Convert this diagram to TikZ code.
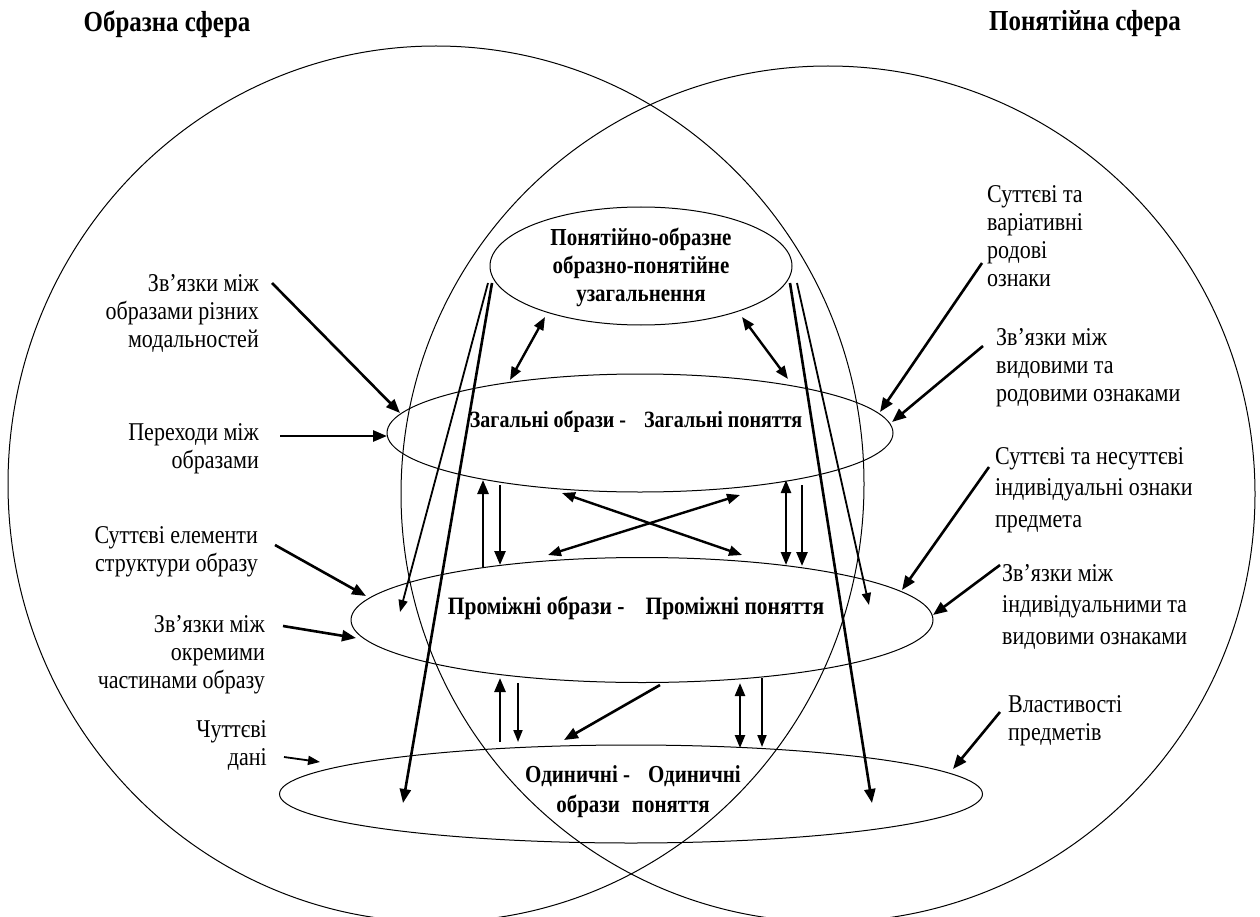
\documentclass[tikz,border=0pt]{standalone}
\usepackage{fontspec}
\setmainfont{Liberation Serif}[FakeStretch=0.86]
\usetikzlibrary{arrows.meta}
\usetikzlibrary{shapes.geometric}
\tikzset{
  sphere/.style={line width=1pt},
  slice/.style={draw, ellipse, line width=1pt, inner sep=0pt},
  sphtitle/.style={font=\bfseries\fontsize{29}{30}\selectfont, inner sep=0pt},
  slicetext/.style={font=\bfseries\fontsize{24.4}{28}\selectfont, align=center, inner sep=0pt},
  lbl/.style={font=\fontsize{25.6}{28}\selectfont, inner sep=0pt},
  arr/.style={-{Triangle[length=14pt,width=11pt]}, line width=2.6pt},
  arrthin/.style={-{Triangle[length=12pt,width=9pt]}, line width=1.8pt},
  dbl/.style={{Triangle[length=13pt,width=10pt]}-{Triangle[length=13pt,width=10pt]}, line width=2.4pt}
}

\begin{document}
\begin{tikzpicture}[x=1pt, y=-1pt]
\useasboundingbox (0,0) rectangle (1260,917);
% the two spheres
\draw[sphere] (436,484) ellipse [x radius=428, y radius=438];
\draw[sphere] (828,494) ellipse [x radius=427, y radius=428];
\node[sphtitle] (imgtitle) at (167,24) {Образна сфера};
\node[sphtitle] (contitle) at (1085,24) {Понятійна сфера};
% levels
\node[slice, minimum width=302pt, minimum height=118pt] (top) at (641,266) {};
\node[slice, minimum width=506pt, minimum height=118pt] (gen) at (640,433) {};
\node[slice, minimum width=582pt, minimum height=125pt] (mid) at (642,620) {};
\node[slice, minimum width=703pt, minimum height=98pt] (sing) at (631,794) {};
\node[slicetext] (toptext) at (641,267) {Понятійно-образне\\образно-понятійне\\узагальнення};
\node[slicetext, font=\bfseries\fontsize{23.3}{28}\selectfont] (gentext) at (636,422)
  {Загальні образи -\hspace{18pt}Загальні поняття};
\node[slicetext, font=\bfseries\fontsize{25}{28}\selectfont] (midtext) at (636,608)
  {Проміжні образи -\hspace{21pt}Проміжні поняття};
\node[slicetext, font=\bfseries\fontsize{24.4}{30}\selectfont] (singtext) at (633,792)
  {Одиничні -\hspace{18pt}Одиничні\\образи\hspace{12pt}поняття};
% annotations
\node[lbl, anchor=east, align=right] (modal) at (259,313.5) {Зв’язки між\\образами різних\\модальностей};
\node[lbl, anchor=east, align=right] (trans) at (259,449) {Переходи між\\образами};
\node[lbl, anchor=east, align=right] (struct) at (258,552) {Суттєві елементи\\структури образу};
\node[lbl, anchor=east, align=right] (parts) at (265,654.5) {Зв’язки між\\окремими\\частинами образу};
\node[lbl, anchor=east, align=right] (sense) at (267,745.5) {Чуттєві\\дані};
\node[lbl, anchor=west, align=left] (genus) at (987,236.5) {Суттєві та\\варіативні\\родові\\ознаки};
\node[lbl, anchor=west, align=left] (species) at (996,368) {Зв’язки між\\видовими та\\родовими ознаками};
\node[lbl, anchor=west, align=left, font=\fontsize{25.6}{31.5}\selectfont] (indiv) at (995,490)
  {Суттєві та несуттєві\\індивідуальні ознаки\\предмета};
\node[lbl, anchor=west, align=left, font=\fontsize{25.6}{31.5}\selectfont] (indsp) at (1002,606.5)
  {Зв’язки між\\індивідуальними та\\видовими ознаками};
\node[lbl, anchor=west, align=left] (prop) at (1008,721) {Властивості\\предметів};
% arrow ends
\foreach \n/\x/\y in {modal-s/272/283, modal-e/400/413, trans-s/280/436, trans-e/387/436,
    struct-s/275/545, struct-e/366/596, parts-s/283/626, parts-e/356/638,
    sense-s/284/757, sense-e/320/762, genus-s/982/263, genus-e/880/412,
    species-s/983/346, species-e/892/422, indiv-s/989/467, indiv-e/902/590,
    indsp-s/1000/565, indsp-e/933/615, prop-s/1000/712, prop-e/953/769,
    tl-a/545/317, tl-b/510/380, tr-a/742/317, tr-b/788/379,
    ll1-s/488/283, ll1-e/400/612, ll2-s/492/283, ll2-e/403/803,
    rl1-s/797/283, rl1-e/869/605, rl2-s/790/283, rl2-e/872/803,
    gu-s/483/567, gu-e/483/480, gd-s/500/485, gd-e/500/565,
    xa-a/562/493, xa-b/742/555, xb-a/740/495, xb-b/548/555,
    gr-a/786/480, gr-b/786/565, grd-s/802/485, grd-e/802/566,
    mu-s/500/742, mu-e/500/678, md-s/518/683, md-e/518/742,
    mx-s/660/685, mx-e/564/740, mr-a/740/683, mr-b/740/748,
    mrd-s/762/678, mrd-e/762/747}
  \coordinate (\n) at (\x,\y);
% arrows from the annotations
\foreach \a in {modal, trans, struct, parts, genus, species, indiv, indsp, prop}
  \draw[arr] (\a-s) -- (\a-e);
\draw[arrthin] (sense-s) -- (sense-e);
% arrows between the levels
\foreach \a in {ll2, rl2, gu, gd, grd, mu, mx}
  \draw[arr] (\a-s) -- (\a-e);
\foreach \a in {ll1, rl1, md, mrd}
  \draw[arrthin] (\a-s) -- (\a-e);
\foreach \a in {tl, tr, xa, xb, gr, mr}
  \draw[dbl] (\a-a) -- (\a-b);
\end{tikzpicture}
\end{document}
